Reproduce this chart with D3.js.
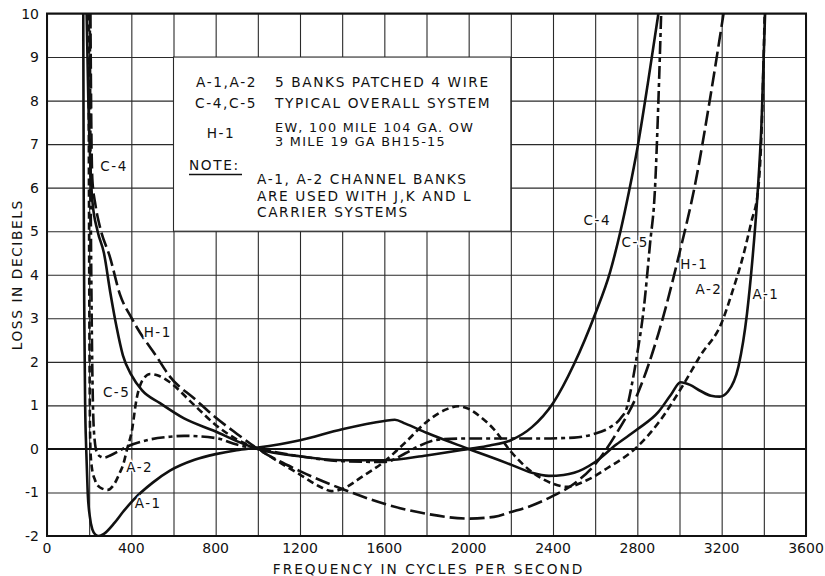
<!DOCTYPE html>
<html>
<head>
<meta charset="utf-8">
<script src="https://cdn.jsdelivr.net/npm/d3@7"></script>
<style>
  body { margin: 0; background: #fff; }
  text { font-family: "DejaVu Sans", "Liberation Sans", sans-serif; fill: #111; }
</style>
</head>
<body>
<div id="the_chart"></div>
<script>
// tick labels
var xTicks = [0, 400, 800, 1200, 1600, 2000, 2400, 2800, 3200, 3600];
var yTicks = [-2, -1, 0, 1, 2, 3, 4, 5, 6, 7, 8, 9, 10];

// series: [frequency, loss dB]
var a1 = [[172,10],[174,6],[177,3],[181,1],[186,0],[193,-1],[203,-1.55],[215,-1.85],[230,-1.97],[245,-2.0],[270,-1.95],
  [320,-1.7],[360,-1.45],[410,-1.17],[500,-0.78],[583,-0.5],[700,-0.25],[800,-0.12],[900,-0.03],[1000,0.03],[1200,0.2],
  [1400,0.45],[1600,0.64],[1650,0.67],[1700,0.58],[1800,0.37],[2000,0],[2200,-0.36],[2300,-0.55],[2380,-0.62],[2450,-0.6],
  [2500,-0.55],[2600,-0.3],[2700,0.1],[2800,0.45],[2900,0.85],[2960,1.25],[3005,1.53],[3050,1.47],[3100,1.33],[3150,1.22],
  [3190,1.2],[3230,1.32],[3280,1.9],[3320,3.1],[3345,4.3],[3368,5.7],[3390,7.6],[3406,10]];

var a2 = [[197,10],[199,6],[201,3],[203,1],[206,0],[212,-0.4],[228,-0.72],[250,-0.88],[288,-0.94],[320,-0.8],[345,-0.55],
  [362,-0.35],[380,0],[402,0.4],[425,1.15],[450,1.55],[489,1.72],[530,1.68],[568,1.58],[700,1.0],[800,0.55],[900,0.22],
  [1000,0],[1100,-0.3],[1200,-0.59],[1300,-0.88],[1350,-0.97],[1400,-0.92],[1500,-0.62],[1600,-0.29],[1700,0.15],
  [1800,0.62],[1900,0.92],[1950,0.98],[2000,0.92],[2060,0.72],[2120,0.45],[2200,-0.06],[2300,-0.53],[2400,-0.8],
  [2465,-0.87],[2560,-0.72],[2655,-0.45],[2800,0.05],[2900,0.6],[3015,1.45],[3100,2.15],[3200,2.9],[3250,3.6],
  [3300,4.4],[3340,5.2],[3373,5.95],[3390,7.4],[3404,10]];

var c4 = [[188,10],[196,8],[205,6.6],[215,5.7],[240,5.0],[270,4.5],[300,3.6],[330,2.8],[360,2.15],[400,1.7],[450,1.35],
  [536,1.05],[650,0.7],[800,0.4],[900,0.18],[1000,0],[1200,-0.17],[1400,-0.26],[1600,-0.26],[1800,-0.15],[2000,0],
  [2100,0.08],[2200,0.2],[2300,0.5],[2400,1.05],[2500,1.95],[2600,3.1],[2670,4.05],[2720,5.0],[2760,5.9],[2800,6.9],
  [2850,8.4],[2900,10]];

var c5 = [[203,10],[207,6],[212,3],[218,1],[226,0.2],[238,-0.1],[255,-0.18],[270,-0.2],[300,-0.15],[340,-0.05],
  [378,0.05],[473,0.2],[583,0.28],[650,0.3],[800,0.25],[900,0.1],[1000,0],[1200,-0.17],[1400,-0.28],[1600,-0.3],
  [1700,-0.1],[1757,0.05],[1867,0.22],[2000,0.24],[2200,0.24],[2340,0.24],[2500,0.26],[2593,0.34],[2672,0.5],
  [2720,0.7],[2751,0.96],[2775,1.5],[2800,2.2],[2830,3.2],[2860,4.7],[2884,6.0],[2900,8.0],[2913,10]];

var h1 = [[206,10],[210,7.5],[215,6.2],[230,5.6],[251,5.1],[299,4.4],[346,3.55],[402,3.0],[425,2.8],[520,2.12],
  [583,1.66],[700,1.15],[800,0.72],[900,0.35],[1000,0],[1200,-0.51],[1400,-0.92],[1600,-1.26],[1800,-1.49],
  [2000,-1.6],[2120,-1.56],[2200,-1.45],[2300,-1.3],[2400,-1.08],[2500,-0.8],[2600,-0.35],[2700,0.35],[2800,1.25],
  [2900,2.65],[3000,4.5],[3075,6.1],[3140,7.9],[3209,10]];

var seriesNames = ["A-1", "A-2", "C-4", "C-5", "H-1"];
var seriesData = [a1, a2, c4, c5, h1];
var seriesDash = [null, "7,4", null, "13,4,4,4", "15,5"];

// curve labels [name, freq, loss]
var leftLabels = [["C-4", 318, 6.5], ["H-1", 525, 2.68], ["C-5", 330, 1.3], ["A-2", 440, -0.42], ["A-1", 480, -1.25]];
var rightLabels = [["C-4", 2610, 5.25], ["C-5", 2790, 4.75], ["H-1", 3070, 4.25], ["A-2", 3140, 3.68], ["A-1", 3410, 3.56]];

var w = 825, h = 576;
var pLeft = 47, pRight = 806, pTop = 13.5, pBottom = 536;

var svg = d3.select("#the_chart").append("svg")
  .attr("width", w)
  .attr("height", h);

var xscale = d3.scaleLinear().domain([0, 3600]).range([pLeft, pRight]);
var yscale = d3.scaleLinear().domain([-2, 10]).range([pBottom, pTop]);

// grid
var xgrid = d3.axisBottom(xscale).tickValues(d3.range(0, 3601, 200)).tickSize(-(pBottom - pTop)).tickFormat("");
var ygrid = d3.axisLeft(yscale).tickValues(yTicks).tickSize(-(pRight - pLeft)).tickFormat("");
svg.append("g").attr("transform", "translate(0," + pBottom + ")").call(xgrid)
  .call(function(g) { g.select(".domain").remove(); })
  .selectAll("line").attr("stroke", "#2a2a2a").attr("stroke-width", 1.1);
svg.append("g").attr("transform", "translate(" + pLeft + ",0)").call(ygrid)
  .call(function(g) { g.select(".domain").remove(); })
  .selectAll("line").attr("stroke", "#2a2a2a").attr("stroke-width", 1.1);

// zero line
svg.append("line")
  .attr("x1", pLeft).attr("x2", pRight)
  .attr("y1", yscale(0)).attr("y2", yscale(0))
  .attr("stroke", "#111").attr("stroke-width", 2);

// note box
svg.append("rect")
  .attr("x", xscale(600)).attr("y", yscale(9))
  .attr("width", xscale(2200) - xscale(600))
  .attr("height", yscale(5) - yscale(9))
  .attr("fill", "#fff").attr("stroke", "#2a2a2a").attr("stroke-width", 1.1);

// frame
svg.append("rect")
  .attr("x", pLeft).attr("y", pTop)
  .attr("width", pRight - pLeft).attr("height", pBottom - pTop)
  .attr("fill", "none").attr("stroke", "#111").attr("stroke-width", 2);

// curves
svg.append("clipPath").attr("id", "plotclip")
  .append("rect").attr("x", pLeft).attr("y", pTop - 1).attr("width", pRight - pLeft).attr("height", pBottom - pTop + 2);

var line = d3.line()
  .x(function(d) { return xscale(d[0]); })
  .y(function(d) { return yscale(d[1]); })
  .curve(d3.curveMonotoneX);

svg.append("g").attr("clip-path", "url(#plotclip)")
  .selectAll("path")
  .data(seriesData)
  .enter().append("path")
  .attr("d", line)
  .attr("fill", "none")
  .attr("stroke", "#111")
  .attr("stroke-width", 2.6)
  .attr("stroke-linejoin", "round")
  .attr("stroke-dasharray", function(d, i) { return seriesDash[i]; });

// curve labels
svg.append("g").selectAll("text")
  .data(leftLabels.concat(rightLabels))
  .enter().append("text")
  .attr("x", function(d) { return xscale(d[1]); })
  .attr("y", function(d) { return yscale(d[2]); })
  .attr("dy", "0.36em")
  .attr("text-anchor", "middle")
  .attr("font-size", 13.5)
  .attr("letter-spacing", 1.5)
  .attr("stroke", "#fff").attr("stroke-width", 3).attr("paint-order", "stroke")
  .text(function(d) { return d[0]; });

// tick labels
svg.append("g").selectAll("text")
  .data(xTicks)
  .enter().append("text")
  .attr("x", function(d) { return xscale(d); })
  .attr("y", 553)
  .attr("text-anchor", "middle")
  .attr("font-size", 14)
  .text(function(d) { return d; });

svg.append("g").selectAll("text")
  .data(yTicks)
  .enter().append("text")
  .attr("x", 39)
  .attr("y", function(d) { return yscale(d); })
  .attr("dy", "0.36em")
  .attr("text-anchor", "end")
  .attr("font-size", 14)
  .text(function(d) { return d; });

// axis titles
svg.append("text")
  .attr("x", (pLeft + pRight) / 2 + 2).attr("y", 574)
  .attr("text-anchor", "middle")
  .attr("font-size", 13.7)
  .attr("letter-spacing", 2)
  .text("FREQUENCY IN CYCLES PER SECOND");

svg.append("text")
  .attr("transform", "translate(22," + ((pTop + pBottom) / 2) + ") rotate(-90)")
  .attr("text-anchor", "middle")
  .attr("font-size", 13.7)
  .attr("letter-spacing", 1.6)
  .text("LOSS IN DECIBELS");

// note text
var note = svg.append("g").attr("font-size", 13.7).attr("letter-spacing", 1.6);
function put(x, y, s, anchor) {
  return note.append("text").attr("x", x).attr("y", y).attr("text-anchor", anchor || "start").text(s);
}
put(257, 87, "A-1,A-2", "end");
put(275, 87, "5 BANKS PATCHED 4 WIRE");
put(257, 108, "C-4,C-5", "end");
put(275, 108, "TYPICAL OVERALL SYSTEM");
put(221, 138, "H-1", "middle");
put(275, 131.5, "EW, 100 MILE 104 GA. OW").attr("font-size", 12.8).attr("letter-spacing", 1.3);
put(275, 145.5, "3 MILE 19 GA BH15-15").attr("font-size", 12.8).attr("letter-spacing", 1.3);
put(189, 170, "NOTE:");
note.append("line").attr("x1", 189).attr("x2", 242).attr("y1", 174.5).attr("y2", 174.5)
  .attr("stroke", "#111").attr("stroke-width", 1.4);
put(257, 184, "A-1, A-2 CHANNEL BANKS");
put(257, 200.5, "ARE USED WITH J,K AND L");
put(257, 217, "CARRIER SYSTEMS");
</script>
</body>
</html>
